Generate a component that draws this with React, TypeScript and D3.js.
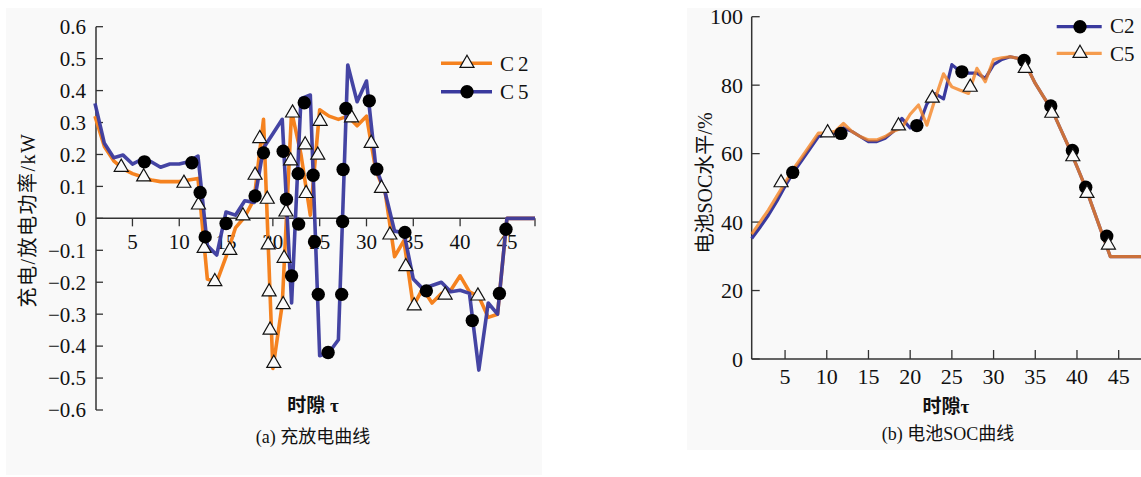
import React from 'react';
import * as d3 from 'd3';

// time slots 1..48
const slots = d3.range(1, 49);

// (a) charge / discharge power, kW
const powerC2 = [
  0.32, 0.225, 0.18, 0.155, 0.14, 0.13, 0.12, 0.115, 0.115, 0.115, 0.12, 0.125,
  -0.19, -0.2, -0.12, -0.03, 0.005, 0.06, 0.31, -0.47, -0.27, 0.335, 0.2, 0.01,
  0.34, 0.32, 0.31, 0.32, 0.29, 0.32, 0.15, 0.08, -0.12, -0.07, -0.275, -0.22,
  -0.265, -0.235, -0.225, -0.18, -0.23, -0.245, -0.31, -0.3, 0, 0, 0, 0,
];
const powerC5 = [
  0.36, 0.235, 0.19, 0.198, 0.17, 0.185, 0.177, 0.16, 0.17, 0.17, 0.177, 0.195,
  -0.085, -0.115, 0.02, 0.01, 0.055, 0.05, 0.22, 0.265, 0.31, -0.265, 0.375, 0.386,
  -0.43, -0.42, -0.38, 0.48, 0.365, 0.43, 0.16, 0.08, -0.04, -0.045, -0.19, -0.22,
  -0.21, -0.2, -0.23, -0.225, -0.235, -0.475, -0.265, -0.3, 0, 0, 0, 0,
];
// marker positions [slot, value]
const powerMarksC2 = [
  [3.8, 0.16], [6.2, 0.13], [10.5, 0.11], [12.05, 0.042], [12.66, -0.094], [13.8, -0.198],
  [15.4, -0.1], [16.8, 0.008], [18.1, 0.135], [18.6, 0.25], [19.4, 0.06], [19.5, -0.083],
  [19.6, -0.23], [19.7, -0.35], [20.1, -0.454], [21.1, -0.27], [21.2, -0.125], [21.4, 0.02],
  [21.9, 0.18], [22.1, 0.33], [23.45, 0.23], [23.55, 0.078], [24.8, 0.198], [25.05, 0.304],
  [28.4, 0.315], [30.5, 0.235], [31.6, 0.094], [32.5, -0.052], [34.2, -0.151], [35.1, -0.274],
  [38.4, -0.24], [41.9, -0.243],
];
const powerMarksC5 = [
  [6.28, 0.177], [11.35, 0.174], [12.23, 0.081], [12.77, -0.058], [15.0, -0.016], [18.1, 0.07],
  [19.0, 0.205], [21.1, 0.21], [21.45, 0.06], [22.0, -0.18], [22.7, 0.14], [22.75, -0.018],
  [23.35, 0.362], [24.3, 0.135], [24.45, -0.073], [24.85, -0.238], [25.9, -0.42], [27.35, -0.238],
  [27.45, -0.01], [27.5, 0.153], [27.8, 0.344], [30.3, 0.368], [31.1, 0.154], [34.1, -0.044],
  [36.4, -0.227], [41.3, -0.32], [44.2, -0.235], [44.9, -0.034],
];

// (b) battery SOC, %
const socC2 = [
  35.2, 38.5, 42, 46, 50.5, 54.5, 58, 61.5, 65, 65.5, 66, 67.5,
  66.5, 65, 63.5, 63.5, 64.5, 66.5, 70.3, 67.5, 68, 74.5, 77.5, 76,
  86, 84, 83.5, 83.5, 82, 86, 87.5, 88.3, 87.8, 85.4, 80.5, 76.6,
  72.8, 67.4, 62, 56.2, 50.3, 43.5, 36.7, 29.9, 29.9, 29.9, 29.9, 29.9,
];
const socC5 = [
  36.5, 40, 43.5, 47.5, 51.5, 55.5, 59, 62.5, 66, 66, 66.5, 68.8,
  66.5, 65, 64, 64, 65, 66.5, 67.5, 71.5, 74.2, 68.3, 76, 83.3,
  79.5, 78.5, 77.6, 84.9, 81, 87.5, 88, 88.3, 87.8, 85.4, 80.5, 76.6,
  72.8, 67.4, 62, 56.2, 50.3, 43.5, 36.7, 29.9, 29.9, 29.9, 29.9, 29.9,
];
const socMarksC2 = [
  [5.92, 54.5], [11.7, 65.9], [20.8, 68.2], [26.2, 83.9], [33.66, 87.2],
  [36.86, 73.9], [39.45, 60.9], [41.05, 50.2], [43.57, 35.9],
];
const socMarksC5 = [
  [4.52, 51.5], [10.1, 66.1], [18.6, 68.1], [22.66, 76.2], [27.2, 79.4], [33.8, 84.9],
  [36.98, 71.8], [39.5, 59.1], [41.2, 48.4], [43.77, 33.3],
];

const powerYTicks = [-0.6, -0.5, -0.4, -0.3, -0.2, -0.1, 0, 0.1, 0.2, 0.3, 0.4, 0.5, 0.6];
const powerXTicks = [5, 10, 15, 20, 25, 30, 35, 40, 45];
const socYTicks = [0, 20, 40, 60, 80, 100];
const socXTicks = [5, 10, 15, 20, 25, 30, 35, 40, 45];

const ORANGE = '#f5821f';
const BLUE = '#3a3a9e';
const AXIS = '#333';
const SERIF = '"Liberation Serif", "Times New Roman", "Noto Sans CJK SC", serif';

const tri = d3.symbol().type(d3.symbolTriangle).size(85)();
const dot = d3.symbol().type(d3.symbolCircle).size(140)();

const fmt = d3.format('.1f');

export default function App() {
  // left panel scales
  const xL = d3.scaleLinear().domain([1, 48]).range([95, 535]);
  const yL = d3.scaleLinear().domain([-0.6, 0.6]).range([410, 26.7]);
  // right panel scales
  const xR = d3.scaleLinear().domain([1, 48]).range([751.7, 1143.7]);
  const yR = d3.scaleLinear().domain([0, 100]).range([359, 16.7]);

  const lineL = d3.line<number>().x((_, i) => xL(slots[i])).y(d => yL(d));
  const lineR = d3.line<number>().x((_, i) => xR(slots[i])).y(d => yR(d));

  const tris = (pts: number[][], x: any, y: any) =>
    pts.map((p, i) => (
      <path key={i} d={tri} transform={`translate(${x(p[0])},${y(p[1])})`}
        fill="#fafafa" stroke="#111" strokeWidth={1.2} />
    ));
  const dots = (pts: number[][], x: any, y: any) =>
    pts.map((p, i) => (
      <path key={i} d={dot} transform={`translate(${x(p[0])},${y(p[1])})`} fill="#000" />
    ));

  const txt = { fontFamily: SERIF, fill: '#111' };

  return (
    <svg width={1141} height={477} style={{ position: 'absolute', left: 0, top: 0, background: '#fff' }}>
      <rect x={6} y={8} width={536} height={467} fill="#f9f9f9" />
      <rect x={687} y={8} width={454} height={442} fill="#f9f9f9" />

      {/* ---------- (a) ---------- */}
      <g>
        <line x1={xL(1) + 1} x2={xL(1) + 1} y1={yL(0.6)} y2={yL(-0.6)} stroke={AXIS} strokeWidth={1.5} />
        {powerYTicks.map(t => (
          <g key={t}>
            <line x1={xL(1) + 1} x2={xL(1) + 8} y1={yL(t)} y2={yL(t)} stroke={AXIS} strokeWidth={1.3} />
            <text x={86} y={yL(t)} dy="0.35em" textAnchor="end" fontSize={21} style={txt}>
              {t === 0 ? '0' : fmt(t)}
            </text>
          </g>
        ))}
        <line x1={xL(1) + 1} x2={xL(48)} y1={yL(0)} y2={yL(0)} stroke={AXIS} strokeWidth={1.5} />
        {[...powerXTicks, 48].map(t => (
          <line key={t} x1={xL(t)} x2={xL(t)} y1={yL(0)} y2={yL(0) + 8} stroke={AXIS} strokeWidth={1.3} />
        ))}
        {powerXTicks.map(t => (
          <text key={t} x={xL(t)} y={249} textAnchor="middle" fontSize={21} style={txt}>{t}</text>
        ))}

        <path d={lineL(powerC2) || ''} fill="none" stroke={ORANGE} strokeWidth={3.6} strokeLinejoin="round" />
        <path d={lineL(powerC5) || ''} fill="none" stroke={BLUE} strokeWidth={3.6} strokeLinejoin="round" opacity={0.95} />
        {tris(powerMarksC2, xL, yL)}
        {dots(powerMarksC5, xL, yL)}

        {/* legend */}
        <line x1={441} x2={492} y1={63.3} y2={63.3} stroke={ORANGE} strokeWidth={3.6} />
        <path d={tri} transform="translate(467,63.3)" fill="#fafafa" stroke="#111" strokeWidth={1.2} />
        <text x={500} y={70.5} fontSize={21} letterSpacing={4} style={txt}>C2</text>
        <line x1={441} x2={492} y1={91.7} y2={91.7} stroke={BLUE} strokeWidth={3.6} />
        <path d={dot} transform="translate(467,91.7)" fill="#000" />
        <text x={500} y={99} fontSize={21} letterSpacing={4} style={txt}>C5</text>

        <text transform="translate(35,220) rotate(-90)" textAnchor="middle" fontSize={20} letterSpacing={1.5} style={txt}>
          充电/放电功率/kW
        </text>
        <text x={313} y={412} textAnchor="middle" fontSize={19} fontWeight="bold" style={txt}>时隙 τ</text>
        <text x={313} y={443} textAnchor="middle" fontSize={18} style={txt}>(a) 充放电曲线</text>
      </g>

      {/* ---------- (b) ---------- */}
      <g>
        <line x1={xR(1)} x2={xR(1)} y1={yR(100)} y2={yR(0)} stroke={AXIS} strokeWidth={1.5} />
        {socYTicks.map(t => (
          <g key={t}>
            <line x1={xR(1)} x2={xR(1) + 8} y1={yR(t)} y2={yR(t)} stroke={AXIS} strokeWidth={1.3} />
            <text x={743} y={yR(t)} dy="0.35em" textAnchor="end" fontSize={22} style={txt}>{t}</text>
          </g>
        ))}
        <line x1={xR(1)} x2={1141} y1={yR(0)} y2={yR(0)} stroke={AXIS} strokeWidth={1.5} />
        {socXTicks.map(t => (
          <g key={t}>
            <line x1={xR(t)} x2={xR(t)} y1={yR(0)} y2={yR(0) - 9} stroke={AXIS} strokeWidth={1.3} />
            <text x={xR(t)} y={384} textAnchor="middle" fontSize={22} style={txt}>{t}</text>
          </g>
        ))}

        <path d={lineR(socC2) || ''} fill="none" stroke={BLUE} strokeWidth={3.2} strokeLinejoin="round" />
        <path d={lineR(socC5) || ''} fill="none" stroke={ORANGE} strokeWidth={3.2} strokeLinejoin="round" opacity={0.78} />
        {dots(socMarksC2, xR, yR)}
        {tris(socMarksC5, xR, yR)}

        {/* legend */}
        <line x1={1056.7} x2={1101.7} y1={26.7} y2={26.7} stroke={BLUE} strokeWidth={3.2} />
        <path d={dot} transform="translate(1080,26.7)" fill="#000" />
        <text x={1110} y={33} fontSize={21} style={txt}>C2</text>
        <line x1={1056.7} x2={1101.7} y1={53.3} y2={53.3} stroke={ORANGE} strokeWidth={3.2} opacity={0.78} />
        <path d={tri} transform="translate(1080,53.3)" fill="#fafafa" stroke="#111" strokeWidth={1.2} />
        <text x={1110} y={61} fontSize={21} style={txt}>C5</text>

        <text transform="translate(712,183) rotate(-90)" textAnchor="middle" fontSize={20} style={txt}>
          电池SOC水平/%
        </text>
        <text x={946} y={413} textAnchor="middle" fontSize={19} fontWeight="bold" style={txt}>时隙τ</text>
        <text x={948} y={440} textAnchor="middle" fontSize={18} style={txt}>(b) 电池SOC曲线</text>
      </g>
    </svg>
  );
}
